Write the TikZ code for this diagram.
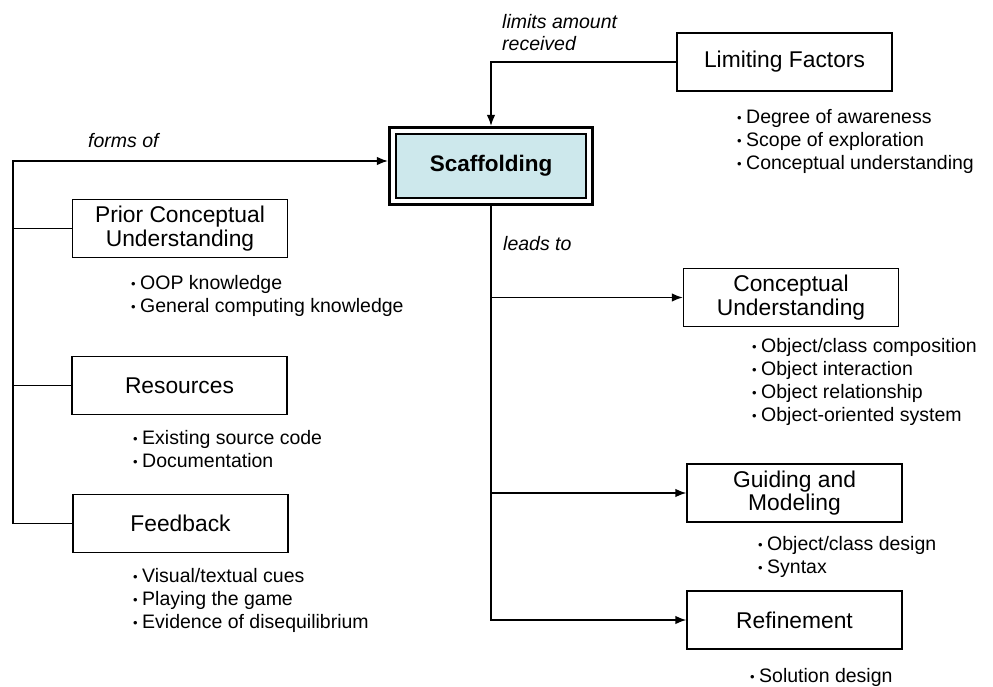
\documentclass[tikz,border=0pt]{standalone}
\usepackage{fontspec}
\usepackage{graphicx}
\setmainfont{Liberation Sans}
\usetikzlibrary{arrows.meta,fit}
\definecolor{scafblue}{RGB}{205,232,236}
\newcommand\bitem{\makebox[9pt][l]{\raisebox{0.6pt}{\fontsize{13}{13}\selectfont •}}}
\begin{document}
\begin{tikzpicture}[x=1pt,y=-1pt,
  box/.style={draw, line width=1.4pt, minimum width=215pt, minimum height=58pt, align=center, inner sep=0pt, font=\fontsize{22.8}{23.5}\selectfont},
  scafbox/.style={draw, line width=1.2pt, fill=scafblue, minimum width=190pt, minimum height=64pt, inner sep=0pt, font=\bfseries\fontsize{22.5}{24}\selectfont},
  blist/.style={anchor=west, align=left, inner sep=0pt, font=\fontsize{19.5}{23}\selectfont},
  lbl/.style={anchor=west, align=left, inner sep=0pt, font=\itshape\fontsize{19.5}{22}\selectfont},
  conn/.style={line width=1.4pt},
  arr/.style={conn, -{Latex[length=11pt,width=8.5pt]}}
]
\useasboundingbox (0,0) rectangle (993,687);

% central node
\node[scafbox] (scaf) at (491,166) {Scaffolding};
\node[draw, line width=3pt, inner sep=6pt, fit=(scaf)] (scafframe) {};

% boxes
\node[box] (lim) at (784.5,62) {Limiting Factors};
\node[box] (prior) at (180,228.5) {Prior Conceptual\\Understanding};
\node[box] (res) at (179.5,385.5) {Resources};
\node[box] (feed) at (180.5,523.5) {Feedback};
\node[box] (cu) at (791,297.5) {Conceptual\\Understanding};
\node[box] (gm) at (794.5,493) {Guiding and\\Modeling};
\node[box] (ref) at (794.5,620) {Refinement};

% bullet lists
\node[blist] (limlist) at (737,141) {\bitem Degree of awareness\\\bitem Scope of exploration\\\bitem Conceptual understanding};
\node[blist] (priorlist) at (131,296) {\bitem OOP knowledge\\\bitem General computing knowledge};
\node[blist] (reslist) at (133,449) {\bitem Existing source code\\\bitem Documentation};
\node[blist] (feedlist) at (133,600) {\bitem Visual/textual cues\\\bitem Playing the game\\\bitem Evidence of disequilibrium};
\node[blist] (culist) at (752,382) {\bitem Object/class composition\\\bitem Object interaction\\\bitem Object relationship\\\bitem Object-oriented system};
\node[blist] (gmlist) at (758,557) {\bitem Object/class design\\\bitem Syntax};
\node[blist] (reflist) at (750,677) {\bitem Solution design};

% labels
\node[lbl] (limlbl) at (502,33) {limits amount\\received};
\node[lbl] (formslbl) at (88,141) {forms of};
\node[lbl] (leadslbl) at (503,244) {leads to};

% connectors
\coordinate (lt) at (13,161);
\draw[arr] (lim.west) -| (scafframe.north);
\draw[arr] (feed.west) -| (lt) -- (lt -| scafframe.west);
\draw[conn] (prior.west) -- (prior.west -| lt);
\draw[conn] (res.west) -- (res.west -| lt);
\draw[arr] (scafframe.south) |- (ref.west);
\draw[arr] (cu.west -| scafframe.south) -- (cu.west);
\draw[arr] (gm.west -| scafframe.south) -- (gm.west);
\end{tikzpicture}
\end{document}
